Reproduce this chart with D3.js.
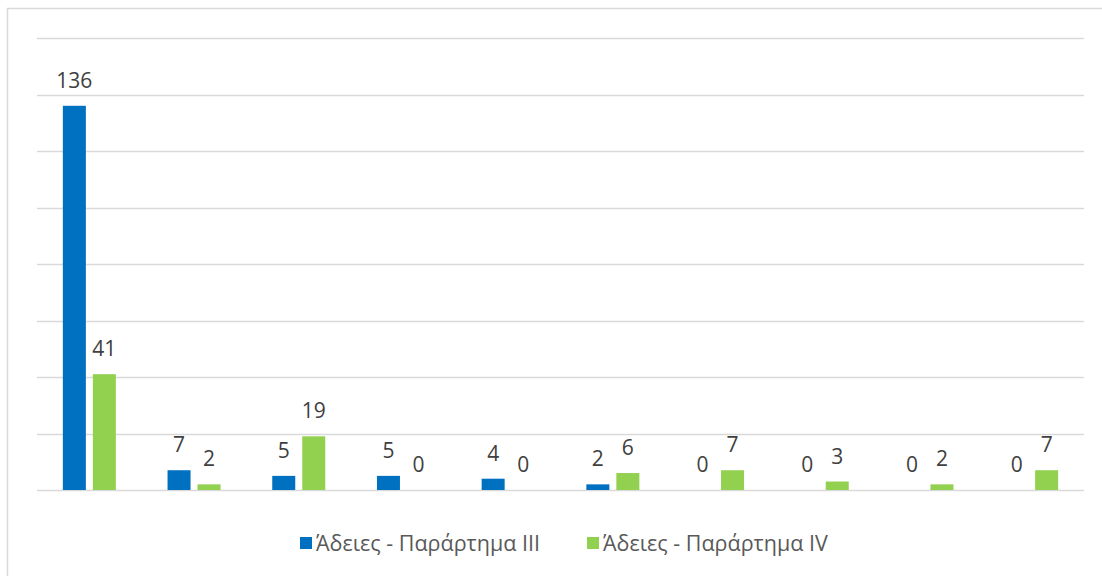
<!DOCTYPE html>
<html>
<head>
<meta charset="utf-8">
<script src="https://cdn.jsdelivr.net/npm/d3@7"></script>
<style>
  html, body { margin: 0; padding: 0; background: #fff; }
  svg { display: block; }
</style>
</head>
<body>
<script>
// Data
const categories = ["1", "2", "3", "4", "5", "6", "7", "8", "9", "10"]
const seriesNames = ["Άδειες - Παράρτημα III", "Άδειες - Παράρτημα IV"]
const annex3 = [136, 7, 5, 5, 4, 2, 0, 0, 0, 0]
const annex4 = [41, 2, 19, 0, 0, 6, 7, 3, 2, 7]
const yTicks = [0, 20, 40, 60, 80, 100, 120, 140, 160]

const colors = ["#0070C0", "#92D050"]
const width = 1102, height = 576
const margin = { top: 38, right: 18, bottom: 86, left: 37 }
const font = "'Open Sans', 'Segoe UI', sans-serif"

// Create SVG
const svg = d3.select("body").append("svg")
  .attr("width", width)
  .attr("height", height)

svg.append("rect")
  .attr("x", 7.5).attr("y", 8.5)
  .attr("width", width).attr("height", height)
  .attr("fill", "none")
  .attr("stroke", "#d9d9d9")
  .attr("stroke-width", 1.5)

// Scales
const x = d3.scaleBand()
  .domain(categories)
  .range([margin.left, width - margin.right])
const y = d3.scaleLinear()
  .domain([0, 160])
  .range([height - margin.bottom, margin.top])

const barW = 23, barGap = 7

// Gridlines
svg.append("g")
  .selectAll("line")
  .data(yTicks)
  .join("line")
  .attr("x1", margin.left)
  .attr("x2", width - margin.right)
  .attr("y1", d => Math.round(y(d)) + 0.5)
  .attr("y2", d => Math.round(y(d)) + 0.5)
  .attr("stroke", "#d9d9d9")
  .attr("stroke-width", 1.5)

// Bars and labels
const series = [annex3, annex4]
series.forEach((values, s) => {
  const offset = s === 0 ? -(barW + barGap / 2) : barGap / 2
  const g = svg.append("g")
  g.selectAll("rect")
    .data(values)
    .join("rect")
    .attr("x", (d, i) => x(categories[i]) + x.bandwidth() / 2 + offset)
    .attr("y", d => y(d))
    .attr("width", barW)
    .attr("height", d => y(0) - y(d))
    .attr("fill", colors[s])
  g.selectAll("text")
    .data(values)
    .join("text")
    .attr("x", (d, i) => x(categories[i]) + x.bandwidth() / 2 + offset + barW / 2)
    .attr("y", d => y(d) - 18)
    .attr("text-anchor", "middle")
    .attr("font-family", font)
    .attr("font-size", "21px")
    .attr("fill", "#404040")
    .text(d => d)
})

// Legend
const legendX = [300, 587]
const legend = svg.append("g")
  .selectAll("g")
  .data(seriesNames)
  .join("g")
  .attr("transform", (d, i) => `translate(${legendX[i]},537)`)
legend.append("rect")
  .attr("width", 12).attr("height", 12)
  .attr("fill", (d, i) => colors[i])
legend.append("text")
  .attr("x", 16)
  .attr("y", 14)
  .attr("font-family", font)
  .attr("font-size", "21.5px")
  .attr("fill", "#595959")
  .text(d => d)
</script>
</body>
</html>
